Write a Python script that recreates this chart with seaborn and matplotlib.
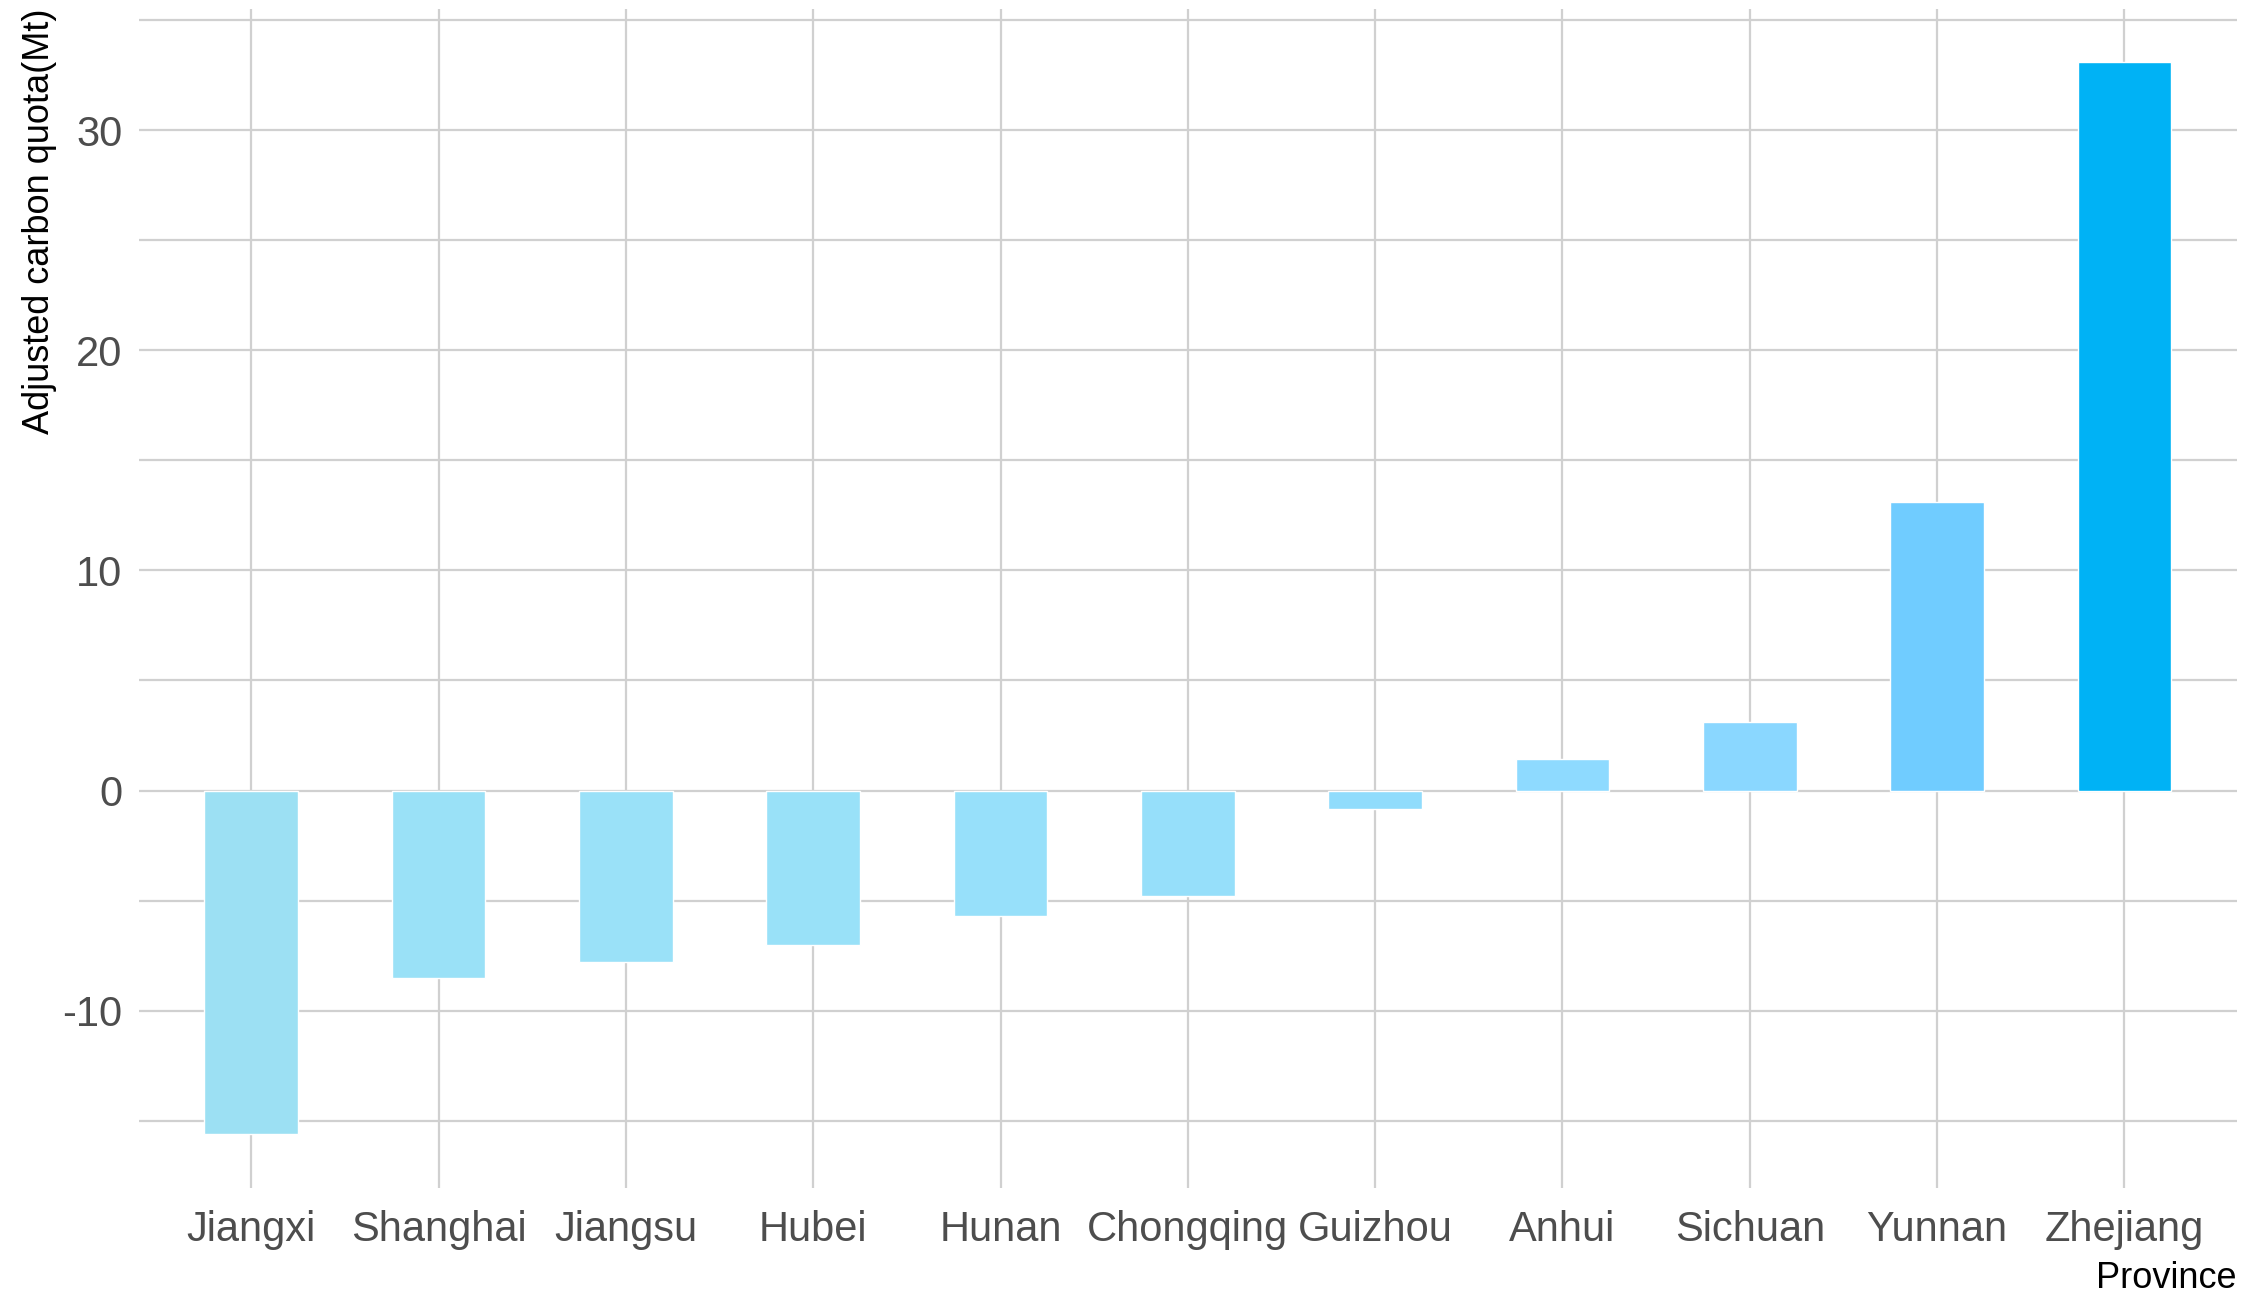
import numpy as np
import pandas as pd
import seaborn as sns
import matplotlib
matplotlib.use('Agg')
from matplotlib import pyplot as plt
from matplotlib.ticker import MultipleLocator

# data
provinces = ['Jiangxi', 'Shanghai', 'Jiangsu', 'Hubei', 'Hunan', 'Chongqing',
             'Guizhou', 'Anhui', 'Sichuan', 'Yunnan', 'Zhejiang']
quota = [-15.6, -8.5, -7.8, -7.0, -5.7, -4.8, -0.85, 1.45, 3.1, 13.1, 33.1]
bar_colors = ['#9CE0F3', '#9AE1F7', '#9AE1F8', '#99E1F8', '#97E0FA', '#96DFFA',
              '#90DCFC', '#8EDAFF', '#8AD7FF', '#70CCFF', '#00B2F5']

df = pd.DataFrame({'province': provinces, 'quota': quota})

sns.set_theme(style='white')
plt.rcParams['font.family'] = ['Liberation Sans', 'DejaVu Sans']
plt.rcParams['axes.unicode_minus'] = False

fig = plt.figure(figsize=(22.48, 13.14), dpi=100)
ax = fig.add_axes([0.0618, 0.0959, 0.9332, 0.8973])

sns.barplot(data=df, x='province', y='quota', hue='province', palette=bar_colors,
            width=0.5, legend=False, saturation=1, ax=ax, zorder=2)

ax.set_xlim(-0.6, 10.6)
ax.set_ylim(-18.05, 35.5)
ax.yaxis.set_major_locator(MultipleLocator(10))
ax.yaxis.set_minor_locator(MultipleLocator(5))
ax.grid(True, which='both', axis='y', color='#D0D0D0', linewidth=1.6, zorder=0)
ax.grid(True, which='major', axis='x', color='#D0D0D0', linewidth=1.6, zorder=0)
ax.set_axisbelow(True)
for s in ax.spines.values():
    s.set_visible(False)

ax.tick_params(axis='both', which='both', length=0, labelsize=30, labelcolor='#4D4D4D')
ax.tick_params(axis='y', pad=12)
ax.tick_params(axis='x', pad=16)

ax.set_xlabel('Province', loc='right', fontsize=26, color='black', labelpad=8)
ax.set_ylabel('Adjusted carbon quota(Mt)', loc='top', fontsize=26, color='black', labelpad=4)

fig.savefig('out.png', dpi=100)
